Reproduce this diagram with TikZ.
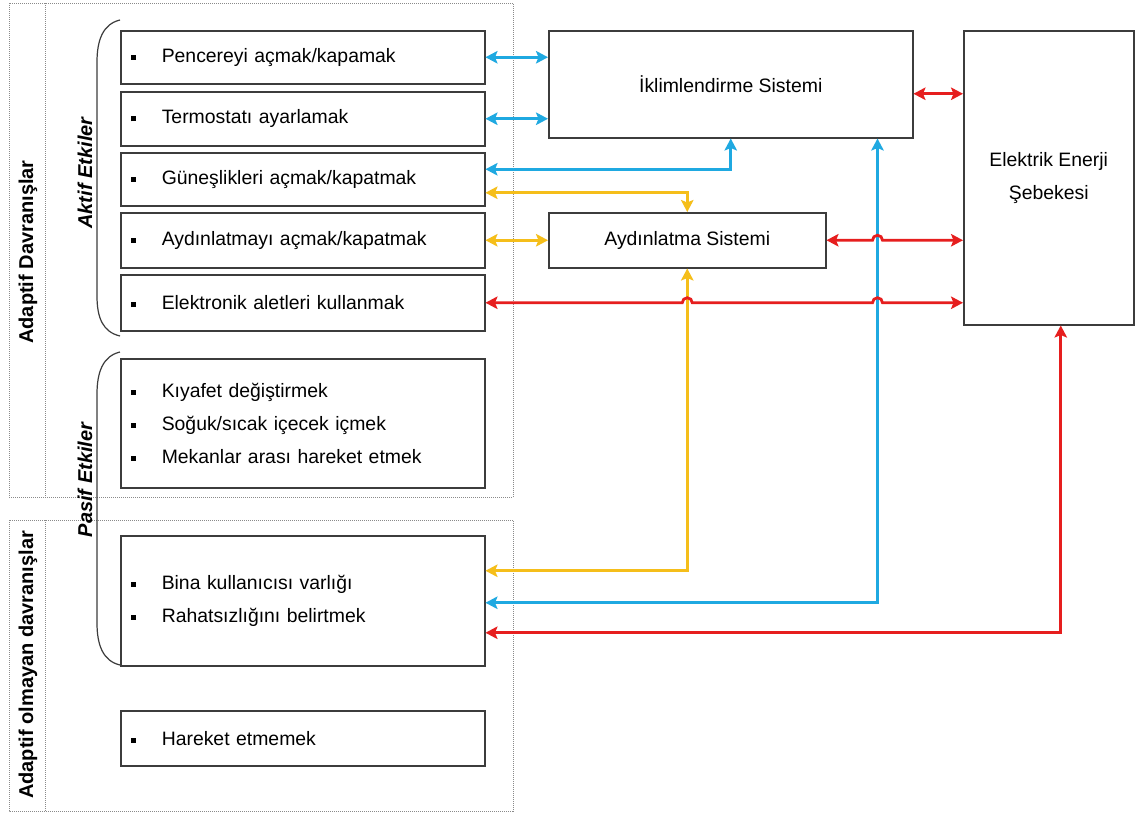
\documentclass[tikz,border=0pt]{standalone}
\usepackage{fontspec}
\setmainfont{Liberation Sans}
\usetikzlibrary{arrows.meta,calc}
\definecolor{cblue}{HTML}{1FA9E1}
\definecolor{cyel}{HTML}{F5BE1A}
\definecolor{cred}{HTML}{E61E1E}
\definecolor{edgec}{HTML}{3C3C3C}
\definecolor{dotc}{HTML}{8A8A8A}
\newcommand\bul{\makebox[31pt][l]{\rule[2.5pt]{5pt}{5pt}}}
\begin{document}
\begin{tikzpicture}[x=1pt,y=-1pt,
 box/.style={draw=edgec, line width=1.5pt, anchor=north west, minimum width=364pt, text width=344pt, inner xsep=10pt, inner ysep=0pt, align=left, font=\fontsize{19.4}{33}\selectfont},
 sbox/.style={draw=edgec, line width=1.5pt, anchor=north west, align=center, font=\fontsize{19.4}{33}\selectfont},
 dbl/.style={line width=2.8pt, {Stealth[length=12pt,width=12.5pt,inset=2.5pt]}-{Stealth[length=12pt,width=12.5pt,inset=2.5pt]}},
 frame/.style={draw=dotc, line width=1pt, densely dotted},
 vlab/.style={rotate=90, font=\fontsize{20}{24}\selectfont\bfseries},
 brace/.style={draw=edgec, line width=1.2pt}
]
\useasboundingbox (0,0) rectangle (1136,814);
\fill[white] (0,0) rectangle (1136,814);

% dotted frames
\draw[frame] (9,3) rectangle (513,497);
\draw[frame] (45,3) -- (45,497);
\draw[frame] (9,520) rectangle (513,811);
\draw[frame] (45,520) -- (45,811);

% left boxes
\node[box, minimum height=53pt] (b1) at (120,30) {\bul Pencereyi açmak/kapamak};
\node[box, minimum height=54pt] (b2) at (120,91) {\bul Termostatı ayarlamak};
\node[box, minimum height=53pt] (b3) at (120,152) {\bul Güneşlikleri açmak/kapatmak};
\node[box, minimum height=55pt] (b4) at (120,212) {\bul Aydınlatmayı açmak/kapatmak};
\node[box, minimum height=56pt] (b5) at (120,274) {\bul Elektronik aletleri kullanmak};
\node[box, minimum height=129pt] (pas) at (120,358) {\bul Kıyafet değiştirmek\\\bul Soğuk/sıcak içecek içmek\\\bul Mekanlar arası hareket etmek};
\node[box, minimum height=130pt] (bina) at (120,535) {\bul Bina kullanıcısı varlığı\\\bul Rahatsızlığını belirtmek};
\node[box, minimum height=55pt] (har) at (120,710) {\bul Hareket etmemek};

% right boxes
\node[sbox, minimum width=364pt, minimum height=107pt] (clim) at (548,30) {İklimlendirme Sistemi};
\node[sbox, minimum width=277pt, minimum height=55pt] (light) at (548,212) {Aydınlatma Sistemi};
\node[sbox, minimum width=170pt, minimum height=294pt] (grid) at (963,30) {Elektrik Enerji\\Şebekesi};

% labels
\node[vlab] (lad) at (28,252) {Adaptif Davranışlar};
\node[vlab] (lnad) at (28,665) {Adaptif olmayan davranışlar};
\node[vlab, font=\fontsize{20}{24}\selectfont\bfseries\itshape] (lak) at (85,173) {Aktif Etkiler};
\node[vlab, font=\fontsize{20}{24}\selectfont\bfseries\itshape] (lpa) at (85,480) {Pasif Etkiler};

% braces
\draw[brace] (120,20) .. controls (103,24) and (97,40) .. (97,62) -- (97,296) .. controls (97,318) and (103,332) .. (120,336);
\draw[brace] (120,352) .. controls (103,356) and (97,372) .. (97,394) -- (97,623) .. controls (97,645) and (103,661) .. (120,665);

% coordinates
\coordinate (bv) at ($(clim.south east)+(-36,0)$);
\coordinate (gv) at ($(grid.south)+(12,0)$);

% connectors
\draw[dbl, cblue] (b1.east) -- (clim.west |- b1.east);
\draw[dbl, cblue] (b2.east) -- (clim.west |- b2.east);
\draw[dbl, cblue] ($(b3.east)+(0,-10)$) -| (clim.south);
\draw[dbl, cyel] ($(b3.east)+(0,13.5)$) -| (light.north);
\draw[dbl, cyel] (b4.east) -- (light.west);
\draw[dbl, cyel] (light.south) |- ($(bina.east)+(0,-30)$);
\draw[dbl, cblue] (bv) |- ($(bina.east)+(0,2)$);
\draw[dbl, cred] (gv) |- ($(bina.east)+(0,32)$);
\draw[dbl, cred] ($(clim.east)+(0,9.5)$) -- ($(grid.west |- clim.east)+(0,9.5)$);
\draw[dbl, cred] (light.east) -- ($(bv |- light.east)+(-5,0)$) arc[start angle=180,end angle=360,radius=5] -- (grid.west |- light.east);
\draw[dbl, cred] (b5.east) -- ($(light.south |- b5.east)+(-5,0)$) arc[start angle=180,end angle=360,radius=5] -- ($(bv |- b5.east)+(-5,0)$) arc[start angle=180,end angle=360,radius=5] -- (grid.west |- b5.east);
\end{tikzpicture}
\end{document}
